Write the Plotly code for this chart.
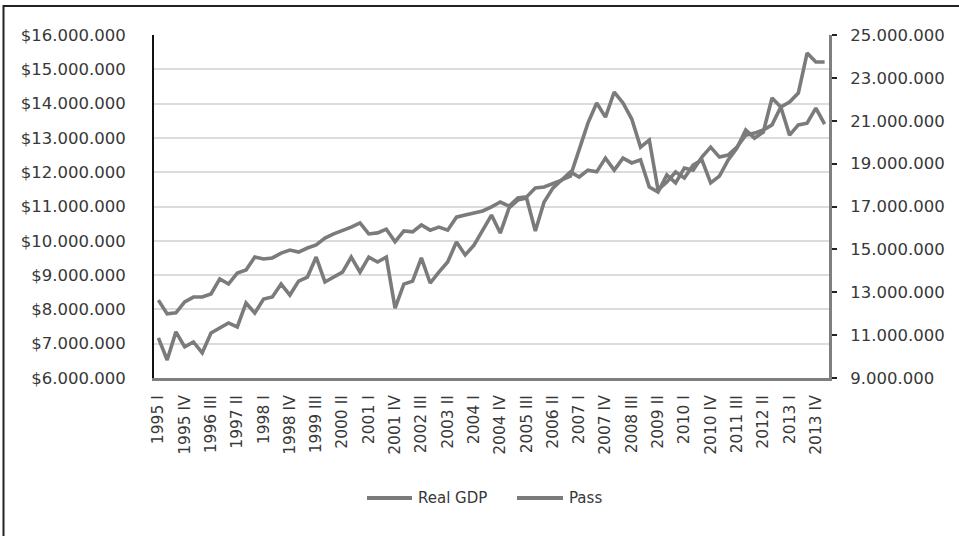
import plotly.graph_objects as go

# Quarterly labels 1995 I .. 2014 I
years = list(range(1995, 2015))
roman = ["I", "II", "III", "IV"]
quarters = [f"{y} {q}" for y in years for q in roman][:77]
tick_labels = quarters[::3]

# Real GDP (left axis), in millions of dollars
real_gdp_m = [
    8.27, 7.87, 7.90, 8.22, 8.36, 8.36, 8.45, 8.89, 8.74, 9.06,
    9.15, 9.53, 9.47, 9.50, 9.64, 9.73, 9.67, 9.79, 9.88, 10.08,
    10.20, 10.29, 10.40, 10.52, 10.20, 10.23, 10.34, 9.97, 10.29, 10.26,
    10.46, 10.31, 10.40, 10.31, 10.69, 10.75, 10.81, 10.87, 10.99, 11.13,
    11.01, 11.25, 11.28, 11.54, 11.57, 11.66, 11.77, 12.01, 11.86, 12.06,
    12.01, 12.41, 12.06, 12.41, 12.27, 12.36, 11.57, 11.42, 11.92, 11.69,
    12.12, 12.06, 12.44, 12.73, 12.44, 12.50, 12.73, 13.08, 13.14, 13.23,
    13.38, 13.90, 13.08, 13.38, 13.43, 13.87, 13.40,
]

# Passengers (right axis), in millions
pass_m = [
    10.87, 9.84, 11.15, 10.45, 10.68, 10.17, 11.10, 11.33, 11.57, 11.38,
    12.50, 12.03, 12.68, 12.78, 13.38, 12.87, 13.52, 13.71, 14.64, 13.48,
    13.71, 13.94, 14.64, 13.94, 14.64, 14.41, 14.64, 12.26, 13.38, 13.52,
    14.60, 13.43, 13.94, 14.41, 15.34, 14.74, 15.20, 15.90, 16.60, 15.76,
    16.93, 17.30, 17.40, 15.86, 17.21, 17.86, 18.24, 18.42, 19.63, 20.89,
    21.83, 21.17, 22.34, 21.83, 21.08, 19.77, 20.10, 17.77, 18.14, 18.61,
    18.33, 18.93, 19.17, 18.10, 18.42, 19.17, 19.73, 20.57, 20.19, 20.47,
    22.06, 21.64, 21.87, 22.29, 24.16, 23.74, 23.74,
]

series_names = ["Real GDP", "Pass"]

real_gdp = [round(v * 1e6) for v in real_gdp_m]
passengers = [round(v * 1e6) for v in pass_m]

LINE_GREY = "#7b7b7b"
TEXT = "#383838"
FONT = "DejaVu Sans"

fig = go.Figure()
fig.add_trace(go.Scatter(
    x=quarters, y=real_gdp, name=series_names[0], mode="lines",
    line=dict(color=LINE_GREY, width=3.6), yaxis="y", showlegend=False,
))
fig.add_trace(go.Scatter(
    x=quarters, y=passengers, name=series_names[1], mode="lines",
    line=dict(color=LINE_GREY, width=3.6), yaxis="y2", showlegend=False,
))

# plot area geometry in pixels (for the frame and the legend)
W, H = 959, 536
L, R, T, B = 154, 130, 35, 158
pw, ph = W - L - R, H - T - B


def px_x(x):
    return (x - L) / pw


def px_y(y):
    return (H - B - y) / ph


shapes = [dict(
    type="rect", xref="paper", yref="paper",
    x0=px_x(3.5), x1=px_x(970), y0=px_y(548), y1=px_y(6),
    line=dict(color="#222222", width=2), fillcolor="rgba(0,0,0,0)",
    layer="above",
)]
annotations = []

# legend: line key followed by the series name
legend_y = 498
legend_items = [(367, 412, series_names[0]), (517, 563, series_names[1])]
for x0, x1, label in legend_items:
    shapes.append(dict(
        type="line", xref="paper", yref="paper",
        x0=px_x(x0), x1=px_x(x1), y0=px_y(legend_y), y1=px_y(legend_y),
        line=dict(color=LINE_GREY, width=4),
    ))
    annotations.append(dict(
        xref="paper", yref="paper", x=px_x(x1 + 4), y=px_y(legend_y),
        xanchor="left", yanchor="middle", showarrow=False, text=label,
        font=dict(family=FONT, size=15, color=TEXT),
    ))

fig.update_layout(
    width=W, height=H, autosize=False,
    margin=dict(l=L, r=R, t=T, b=B, pad=0),
    paper_bgcolor="white", plot_bgcolor="white",
    separators=",.",
    font=dict(family=FONT, size=15, color=TEXT),
    showlegend=False,
    xaxis=dict(
        type="category", categoryorder="array", categoryarray=quarters,
        range=[-0.5, len(quarters) - 0.5],
        tickmode="array", tickvals=tick_labels, ticktext=tick_labels,
        tickangle=-90, showgrid=False, zeroline=False,
        showline=True, linecolor="#7f7f7f", linewidth=3,
        ticks="", ticklabelstandoff=8,
        tickfont=dict(family=FONT, size=15.5, color=TEXT),
    ),
    yaxis=dict(
        range=[6e6, 16e6], dtick=1e6, tick0=6e6,
        tickprefix="$", tickformat=",.0f",
        showgrid=True, gridcolor="#dcdcdc", gridwidth=2,
        zeroline=False, showline=True, linecolor="#111111", linewidth=2,
        ticks="", ticklabelstandoff=23,
        tickfont=dict(family=FONT, size=16.5, color=TEXT),
    ),
    yaxis2=dict(
        overlaying="y", side="right",
        range=[9e6, 25e6], dtick=2e6, tick0=9e6, tickformat=",.0f",
        showgrid=False, zeroline=False,
        showline=True, linecolor="#7f7f7f", linewidth=3,
        ticks="outside", ticklen=5, tickwidth=2, tickcolor="#222222",
        ticklabelstandoff=10,
        tickfont=dict(family=FONT, size=16.5, color=TEXT),
    ),
    shapes=shapes,
    annotations=annotations,
)

fig.write_html("out.html", include_plotlyjs=True, config={"displayModeBar": False})
